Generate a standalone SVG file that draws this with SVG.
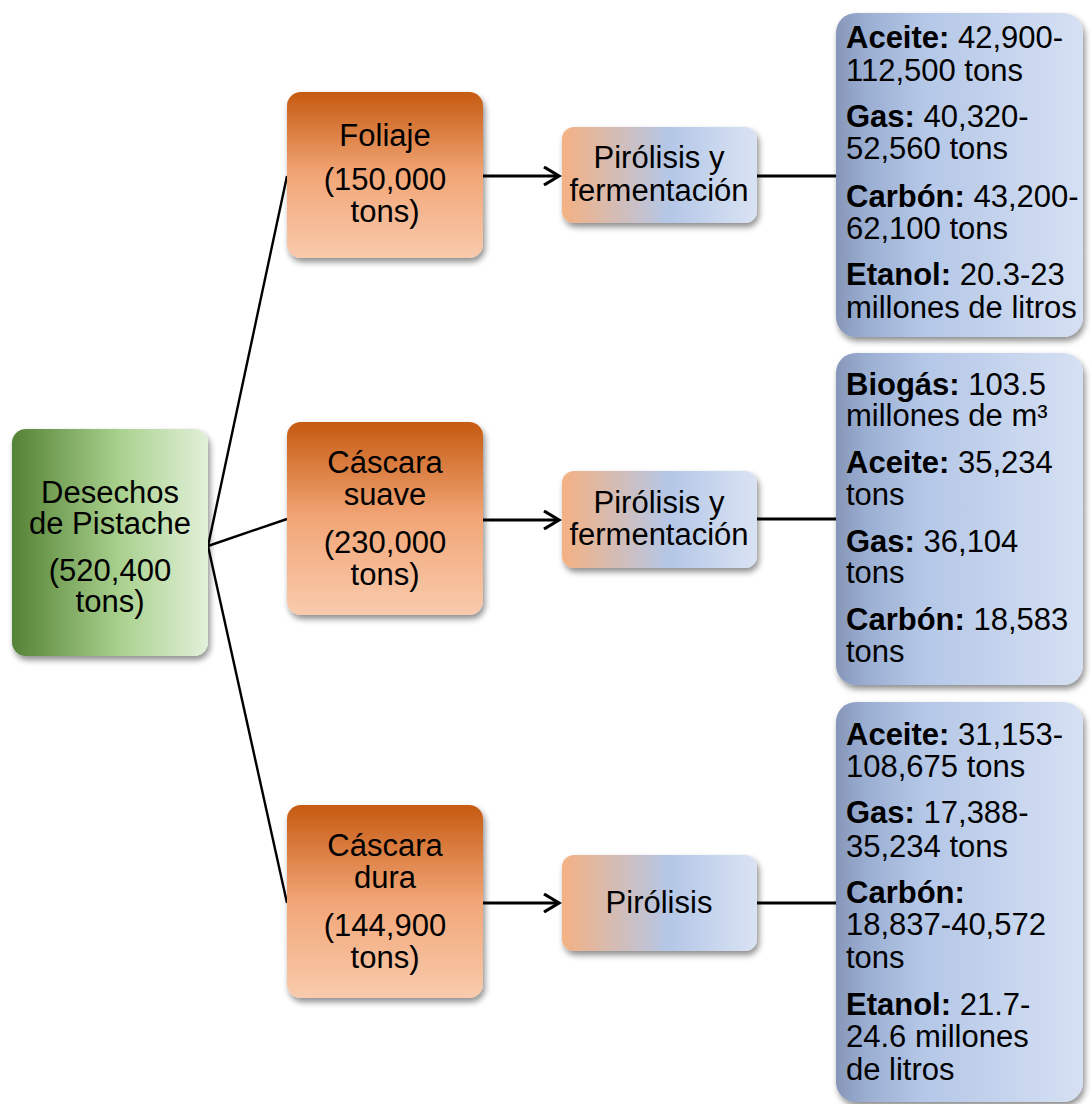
<svg xmlns="http://www.w3.org/2000/svg" width="1091" height="1104" viewBox="0 0 1091 1104">
<defs>
<linearGradient id="gGreen" x1="0" y1="0" x2="1" y2="0">
<stop offset="0" stop-color="#548235"/>
<stop offset="0.55" stop-color="#a9d18e"/>
<stop offset="1" stop-color="#e2f0d9"/>
</linearGradient>
<linearGradient id="gOrange" x1="0" y1="0" x2="0" y2="1">
<stop offset="0" stop-color="#c55a11"/>
<stop offset="0.5" stop-color="#f2a677"/>
<stop offset="1" stop-color="#f8cbad"/>
</linearGradient>
<linearGradient id="gProc" x1="0" y1="0" x2="1" y2="0">
<stop offset="0" stop-color="#f4b183"/>
<stop offset="0.55" stop-color="#b4c7e7"/>
<stop offset="1" stop-color="#dae3f3"/>
</linearGradient>
<linearGradient id="gOut" x1="0" y1="0" x2="1" y2="0">
<stop offset="0" stop-color="#8696b8"/>
<stop offset="0.12" stop-color="#9aaed2"/>
<stop offset="0.35" stop-color="#b4c7e7"/>
<stop offset="1" stop-color="#d6e0f3"/>
</linearGradient>
<filter id="sh" x="-10%" y="-10%" width="130%" height="130%">
<feGaussianBlur in="SourceAlpha" stdDeviation="3"/>
<feOffset dx="2" dy="4" result="b"/>
<feComponentTransfer><feFuncA type="linear" slope="0.45"/></feComponentTransfer>
<feMerge><feMergeNode/><feMergeNode in="SourceGraphic"/></feMerge>
</filter>
<marker id="arr" viewBox="0 0 20 20" refX="17" refY="10" markerWidth="20" markerHeight="20" markerUnits="userSpaceOnUse" orient="auto">
<path d="M2,1 L17,10 L2,19" fill="none" stroke="#000" stroke-width="3.2"/>
</marker>
</defs>
<style>
text{font-family:"Liberation Sans",Arial,sans-serif;font-size:31px;fill:#000}
.c{text-anchor:middle}
b,.b{font-weight:bold}
.ln{stroke:#000;stroke-width:2.4;fill:none}
.ar{stroke:#000;stroke-width:3.2;fill:none}
</style>
<g id="connectors">
<line class="ln" x1="208" y1="546" x2="287" y2="176"/>
<line class="ln" x1="208" y1="546" x2="287" y2="519"/>
<line class="ln" x1="208" y1="546" x2="287" y2="903"/>
<line class="ar" x1="483" y1="176" x2="559" y2="176" marker-end="url(#arr)"/>
<line class="ar" x1="483" y1="520" x2="559" y2="520" marker-end="url(#arr)"/>
<line class="ar" x1="483" y1="903" x2="559" y2="903" marker-end="url(#arr)"/>
<line class="ar" x1="757" y1="176" x2="837" y2="176"/>
<line class="ar" x1="757" y1="519" x2="837" y2="519"/>
<line class="ar" x1="757" y1="903" x2="837" y2="903"/>
</g>
<g id="root">
<rect x="12" y="429" width="196" height="227" rx="14" fill="url(#gGreen)" filter="url(#sh)"/>
<text class="c" x="110" y="503">Desechos</text>
<text class="c" x="110" y="534">de Pistache</text>
<text class="c" x="110" y="581">(520,400</text>
<text class="c" x="110" y="612">tons)</text>
</g>
<g id="foliaje">
<rect x="287" y="92" width="196" height="166" rx="14" fill="url(#gOrange)" filter="url(#sh)"/>
<text class="c" x="385" y="146">Foliaje</text>
<text class="c" x="385" y="190">(150,000</text>
<text class="c" x="385" y="222">tons)</text>
</g>
<g id="suave">
<rect x="287" y="422" width="196" height="193" rx="14" fill="url(#gOrange)" filter="url(#sh)"/>
<text class="c" x="385" y="473">Cáscara</text>
<text class="c" x="385" y="505">suave</text>
<text class="c" x="385" y="553">(230,000</text>
<text class="c" x="385" y="585">tons)</text>
</g>
<g id="dura">
<rect x="287" y="805" width="196" height="193" rx="14" fill="url(#gOrange)" filter="url(#sh)"/>
<text class="c" x="385" y="856">Cáscara</text>
<text class="c" x="385" y="888">dura</text>
<text class="c" x="385" y="936">(144,900</text>
<text class="c" x="385" y="968">tons)</text>
</g>
<g id="proc1">
<rect x="562" y="127" width="195" height="96" rx="12" fill="url(#gProc)" filter="url(#sh)"/>
<text class="c" x="659" y="168">Pirólisis y</text>
<text class="c" x="659" y="201">fermentación</text>
</g>
<g id="proc2">
<rect x="562" y="471" width="195" height="97" rx="12" fill="url(#gProc)" filter="url(#sh)"/>
<text class="c" x="659" y="513">Pirólisis y</text>
<text class="c" x="659" y="545">fermentación</text>
</g>
<g id="proc3">
<rect x="562" y="855" width="195" height="96" rx="12" fill="url(#gProc)" filter="url(#sh)"/>
<text class="c" x="659" y="913">Pirólisis</text>
</g>
<g id="out1">
<rect x="836" y="13" width="247" height="324" rx="20" fill="url(#gOut)" filter="url(#sh)"/>
<text x="846" y="48"><tspan class="b">Aceite:</tspan> 42,900-</text>
<text x="846" y="81">112,500 tons</text>
<text x="846" y="127"><tspan class="b">Gas:</tspan> 40,320-</text>
<text x="846" y="159">52,560 tons</text>
<text x="846" y="207"><tspan class="b">Carbón:</tspan> 43,200-</text>
<text x="846" y="239">62,100 tons</text>
<text x="846" y="285"><tspan class="b">Etanol:</tspan> 20.3-23</text>
<text x="846" y="318">millones de litros</text>
</g>
<g id="out2">
<rect x="836" y="353" width="247" height="332" rx="20" fill="url(#gOut)" filter="url(#sh)"/>
<text x="846" y="395"><tspan class="b">Biogás:</tspan> 103.5</text>
<text x="846" y="426">millones de m³</text>
<text x="846" y="473"><tspan class="b">Aceite:</tspan> 35,234</text>
<text x="846" y="505">tons</text>
<text x="846" y="552"><tspan class="b">Gas:</tspan> 36,104</text>
<text x="846" y="583">tons</text>
<text x="846" y="630"><tspan class="b">Carbón:</tspan> 18,583</text>
<text x="846" y="662">tons</text>
</g>
<g id="out3">
<rect x="836" y="702" width="247" height="400" rx="20" fill="url(#gOut)" filter="url(#sh)"/>
<text x="846" y="745"><tspan class="b">Aceite:</tspan> 31,153-</text>
<text x="846" y="777">108,675 tons</text>
<text x="846" y="823"><tspan class="b">Gas:</tspan> 17,388-</text>
<text x="846" y="857">35,234 tons</text>
<text x="846" y="903"><tspan class="b">Carbón:</tspan></text>
<text x="846" y="935">18,837-40,572</text>
<text x="846" y="968">tons</text>
<text x="846" y="1015"><tspan class="b">Etanol:</tspan> 21.7-</text>
<text x="846" y="1047">24.6 millones</text>
<text x="846" y="1080">de litros</text>
</g>
</svg>
